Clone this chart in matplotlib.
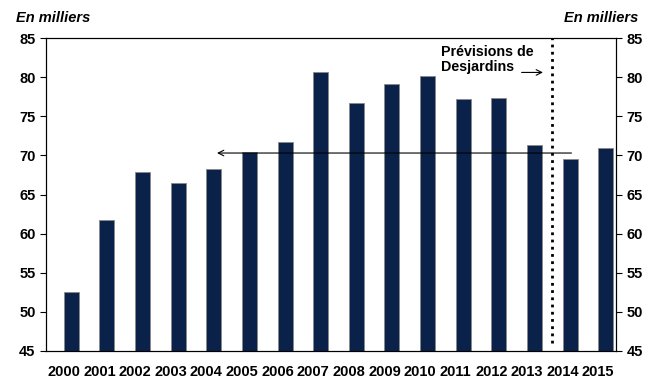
import matplotlib
matplotlib.use("Agg")
import matplotlib.pyplot as plt
import numpy as np

years = ["2000", "2001", "2002", "2003", "2004", "2005", "2006", "2007",
         "2008", "2009", "2010", "2011", "2012", "2013", "2014", "2015"]
values = [52.6, 61.7, 67.9, 66.5, 68.3, 70.4, 71.7, 80.6,
          76.7, 79.1, 80.1, 77.2, 77.3, 71.3, 69.6, 71.0]
yticks = [45, 50, 55, 60, 65, 70, 75, 80, 85]
forecast_split = 13.7
avg_level = 70.3

plt.rcParams['font.family'] = ['Liberation Sans', 'DejaVu Sans']

fig = plt.figure(figsize=(6.52, 3.79), dpi=100)
ax = fig.add_axes([46/652, 1 - 351/379, 570/652, 313/379])

x = np.arange(len(years))
ax.bar(x + 0.21, values, width=0.42, color='#0a224a', edgecolor='#888888', linewidth=0.6, zorder=2)

ax.set_xlim(-0.5, len(years) - 0.5)
ax.set_ylim(45, 85)
ax.set_yticks(yticks)
ax.set_xticks(x)
ax.set_xticklabels(years, fontweight='bold', fontsize=10.5)
ax.tick_params(axis='x', length=0, pad=10)
ax.tick_params(axis='y', length=4, direction='out', labelsize=10.5, width=0.8)
for lab in ax.get_yticklabels():
    lab.set_fontweight('bold')

ax2 = ax.twinx()
ax2.set_ylim(45, 85)
ax2.set_yticks(yticks)
ax2.tick_params(axis='y', length=4, direction='out', labelsize=10.5, width=0.8)
for lab in ax2.get_yticklabels():
    lab.set_fontweight('bold')

for a in (ax, ax2):
    for s in a.spines.values():
        s.set_linewidth(0.8)
        s.set_color('black')

# dotted forecast line
ax.plot([forecast_split, forecast_split], [46, 85], color='black', linestyle=(0, (1, 1.6)), linewidth=2.0, zorder=3)

# horizontal arrow
ax.annotate('', xy=(4.3, avg_level), xytext=(14.25, avg_level),
            arrowprops=dict(arrowstyle='->', color='black', lw=0.8, shrinkA=0, shrinkB=0), zorder=4)

ax.text(10.6, 84.1, 'Prévisions de\nDesjardins', fontsize=10.3, fontweight='bold', va='top', ha='left', linespacing=1.1)
ax.annotate('', xy=(13.45, 80.6), xytext=(12.85, 80.6),
            arrowprops=dict(arrowstyle='->', color='black', lw=0.8, shrinkA=0, shrinkB=0))

fig.text(16/652, 1 - 18/379, 'En milliers', fontsize=10.5, fontweight='bold', fontstyle='italic', va='center', ha='left')
fig.text(638/652, 1 - 18/379, 'En milliers', fontsize=10.5, fontweight='bold', fontstyle='italic', va='center', ha='right')

fig.savefig('out.png', dpi=100)
